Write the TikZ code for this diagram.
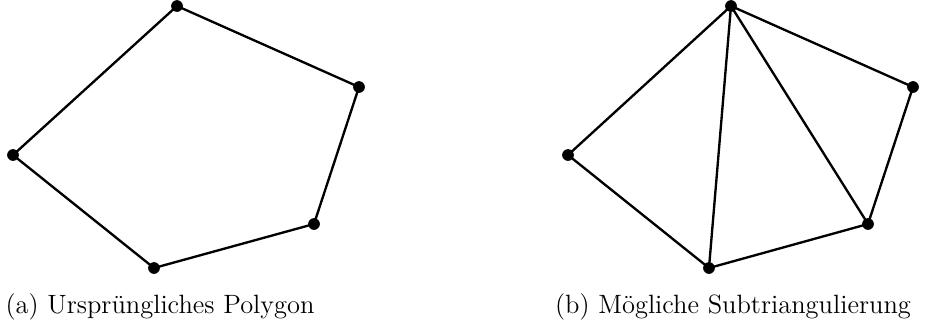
\documentclass[tikz,border=0pt]{standalone}
\usepackage{tikz}
\usetikzlibrary{positioning, calc}

\begin{document}
\begin{tikzpicture}[
    x=0.015cm, y=-0.015cm,
    dot/.style={circle, fill=black, inner sep=0pt, minimum size=5pt},
    edge/.style={line width=1pt, line join=round},
    caption/.style={anchor=base, font=\fontsize{11.3}{13}\selectfont},
]
    \useasboundingbox (0, 0) rectangle (926, 326);

    % (a) original polygon
    \coordinate (at) at (177, 6);
    \coordinate (ar) at (359, 87);
    \coordinate (abr) at (314, 224);
    \coordinate (ab) at (154, 268);
    \coordinate (al) at (13, 155);

    % (b) triangulated copy
    \coordinate (bt) at (731, 6);
    \coordinate (br) at (913, 87);
    \coordinate (bbr) at (868, 224);
    \coordinate (bb) at (709, 268);
    \coordinate (bl) at (568, 155);

    % Edges
    \draw[edge] (at) -- (ar) -- (abr) -- (ab) -- (al) -- cycle;
    \draw[edge] (bt) -- (br) -- (bbr) -- (bb) -- (bl) -- cycle;
    \draw[edge] (bt) -- (bb);
    \draw[edge] (bt) -- (bbr);

    % Vertices
    \foreach \v in {at, ar, abr, ab, al, bt, br, bbr, bb, bl}
        \node[dot] at (\v) {};

    % Captions
    \node[caption] (capa) at (160, 313) {(a) Ursprüngliches Polygon};
    \node[caption] (capb) at (733, 313) {(b) Mögliche Subtriangulierung};
\end{tikzpicture}
\end{document}
